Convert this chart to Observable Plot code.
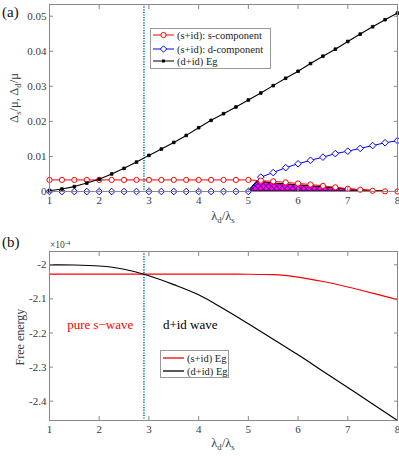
<!DOCTYPE html>
<html><head><meta charset="utf-8">
<script src="https://cdn.jsdelivr.net/npm/d3@7"></script>
<script src="https://cdn.jsdelivr.net/npm/@observablehq/plot@0.6"></script>
<style>
body{margin:0;background:#fff;font-family:'Liberation Serif','DejaVu Serif','Times New Roman',serif;color:#333}
#wrap{position:relative;width:399px;height:456px;overflow:hidden}
#wrap svg text{font-family:'Liberation Serif','DejaVu Serif','Times New Roman',serif}
.ov{position:absolute;white-space:nowrap;line-height:1}
.leg{position:absolute;background:#fff;border:1px solid #999;box-sizing:border-box;font-size:10.5px;color:#222}
.row{position:absolute;left:2px;display:flex;align-items:center;height:12px}
.row svg{margin-right:3px}
sub{font-size:70%;vertical-align:-0.35em}
sup{font-size:70%;vertical-align:0.45em}
</style></head><body>
<div id="wrap"></div>
<script>
// ---------- data ----------
const lambdaA = [1,1.25,1.5,1.75,2,2.25,2.5,2.75,3,3.25,3.5,3.75,4,4.25,4.5,4.75,5,5.25,5.5,5.75,6,6.25,6.5,6.75,7,7.25,7.5,7.75,8];
const sComp = [0.0033,0.0033,0.0033,0.0033,0.0033,0.0033,0.0033,0.0033,0.0033,0.0033,0.0033,0.0033,0.0033,0.0033,0.0033,0.0033,0.0033,0.0031,0.0029,0.0026,0.0023,0.0020,0.0016,0.0012,0.0008,0.0005,0.0002,0.00005,0];
const dComp = [0,0,0,0,0,0,0,0,0,0,0,0,0,0,0,0,0,0.0041,0.0054,0.0068,0.0079,0.0089,0.0098,0.0108,0.0115,0.0123,0.0131,0.0139,0.0145];
const dEg = [0.0002,0.0007,0.0014,0.0024,0.0035,0.0050,0.0066,0.0084,0.0103,0.0121,0.0140,0.0160,0.0182,0.0203,0.0222,0.0241,0.0261,0.0281,0.0302,0.0323,0.0343,0.0365,0.0386,0.0406,0.0428,0.0449,0.0470,0.0490,0.0509];
const hatchX = [5,5.18,5.5,6,6.5,7,7.5,7.75];
const hatchY = [0,0.0029,0.0023,0.0018,0.0012,0.0006,0.0002,0];
const lambdaB = [1,1.5,2,2.5,2.9,3,3.5,4,4.5,5,5.5,6,6.5,7,7.5,8];
const sEgB = [-2.0276,-2.0276,-2.0276,-2.0276,-2.0276,-2.0276,-2.0276,-2.0276,-2.0276,-2.0277,-2.029,-2.036,-2.049,-2.065,-2.083,-2.102];
const dEgB = [-2.0000,-2.0006,-2.0035,-2.013,-2.0276,-2.032,-2.058,-2.088,-2.129,-2.173,-2.218,-2.264,-2.312,-2.360,-2.408,-2.4566];
const crossover = [2.9];
const xTicks = [1,2,3,4,5,6,7,8];
const yTicksA = [0,0.01,0.02,0.03,0.04,0.05];
const yTicksB = [-2.4,-2.3,-2.2,-2.1,-2];
const regionLabels = [{x:2.02,y:-2.175,text:"pure s\u2212wave",c:"red"},{x:3.83,y:-2.175,text:"d+id wave",c:"black"}];

const A = lambdaA.map((x,i)=>({x,s:sComp[i],d:dComp[i],e:dEg[i]}));
const H = hatchX.map((x,i)=>({x,y:hatchY[i]}));
const B = lambdaB.map((x,i)=>({x,s:sEgB[i],d:dEgB[i]}));

const FONT = "'Liberation Serif','DejaVu Serif','Times New Roman',serif";
const axisCol = "#888";
const txtCol = "#3a3a3a";

function axes(yTicks, fmt){
  return [
    Plot.frame({stroke:axisCol, strokeWidth:1}),
    Plot.axisX(xTicks,{anchor:"bottom", tickSize:-4, tickPadding:9, stroke:axisCol, fill:txtCol, label:null, fontSize:11}),
    Plot.axisX(xTicks,{anchor:"top", tickSize:-4, tickFormat:()=>"", stroke:axisCol, label:null}),
    Plot.axisY(yTicks,{anchor:"left", tickSize:-4, tickPadding:7, stroke:axisCol, fill:txtCol, label:null, tickFormat:fmt, fontSize:11}),
    Plot.axisY(yTicks,{anchor:"right", tickSize:-4, tickFormat:()=>"", stroke:axisCol, label:null})
  ];
}

const plotA = Plot.plot({
  width:399, height:225, marginLeft:49, marginRight:2, marginTop:4, marginBottom:34,
  style:{fontFamily:FONT, fontSize:"11px", background:"transparent", overflow:"visible"},
  x:{domain:[1,8]},
  y:{domain:[0,0.05334]},
  marks:[
    Plot.areaY(H,{x:"x", y:"y", fill:"url(#xhatch)", stroke:"black", strokeWidth:1}),
    Plot.ruleX(crossover,{stroke:"#0072BD", strokeWidth:1.6, strokeDasharray:"1.2,1.4"}),
    Plot.line(A,{x:"x", y:"d", stroke:"blue", strokeWidth:1}),
    Plot.dot(A,{x:"x", y:"d", symbol:"diamond2", r:3, stroke:"blue", fill:"white", strokeWidth:1}),
    Plot.line(A,{x:"x", y:"s", stroke:"red", strokeWidth:1}),
    Plot.dot(A,{x:"x", y:"s", symbol:"circle", r:2.6, stroke:"red", fill:"white", strokeWidth:1}),
    Plot.line(A,{x:"x", y:"e", stroke:"black", strokeWidth:1.1}),
    Plot.dot(A,{x:"x", y:"e", symbol:"square", r:1.5, fill:"black", stroke:"black", strokeWidth:0.8}),
    ...axes(yTicksA, d => d===0 ? "0" : d.toFixed(2))
  ]
});

const plotB = Plot.plot({
  width:399, height:231, marginLeft:49, marginRight:2, marginTop:26, marginBottom:36,
  style:{fontFamily:FONT, fontSize:"11px", background:"transparent", overflow:"visible"},
  x:{domain:[1,8]},
  y:{domain:[-2.4566,-1.961]},
  marks:[
    Plot.ruleX(crossover,{stroke:"#0072BD", strokeWidth:1.6, strokeDasharray:"1.2,1.4"}),
    Plot.line(B,{x:"x", y:"s", stroke:"red", strokeWidth:1.2, curve:"monotone-x"}),
    Plot.line(B,{x:"x", y:"d", stroke:"black", strokeWidth:1.2, curve:"monotone-x"}),
    Plot.text(regionLabels,{x:"x", y:"y", text:"text", fill:"c", fontSize:13, fontFamily:FONT}),
    ...axes(yTicksB, d => String(+d.toFixed(1)))
  ]
});

// pattern defs
const ns = "http://www.w3.org/2000/svg";
const defs = document.createElementNS(ns,"defs");
defs.innerHTML = `<pattern id="xhatch" width="3.8" height="3.8" patternUnits="userSpaceOnUse" patternTransform="rotate(45)">
<rect width="3.8" height="3.8" fill="#ff00ff"/>
<line x1="0" y1="0" x2="0" y2="3.8" stroke="black" stroke-width="1"/>
<line x1="0" y1="0" x2="3.8" y2="0" stroke="black" stroke-width="1"/></pattern>`;
plotA.insertBefore(defs, plotA.firstChild);

const wrap = document.getElementById("wrap");
plotA.style.position="absolute"; plotA.style.left="0"; plotA.style.top="0";
plotB.style.position="absolute"; plotB.style.left="0"; plotB.style.top="225px";
wrap.appendChild(plotA); wrap.appendChild(plotB);

function ov(html, css){const d=document.createElement("div");d.className="ov";d.innerHTML=html;Object.assign(d.style,css);wrap.appendChild(d);return d;}
ov("(a)",{left:"2px",top:"5px",fontSize:"15px",color:"#111"});
ov("(b)",{left:"2px",top:"235px",fontSize:"15px",color:"#111"});
ov("\u00d710<sup>-4</sup>",{left:"50px",top:"240px",fontSize:"9.5px",color:txtCol});
ov("\u03bb<sub>d</sub>/\u03bb<sub>s</sub>",{left:"223px",top:"217px",fontSize:"12.5px",color:txtCol,transform:"translate(-50%,-50%)"});
ov("\u03bb<sub>d</sub>/\u03bb<sub>s</sub>",{left:"223px",top:"444px",fontSize:"12.5px",color:txtCol,transform:"translate(-50%,-50%)"});
ov("\u0394<sub>s</sub>/\u03bc, \u0394<sub>d</sub>/\u03bc",{left:"15px",top:"98px",fontSize:"12.5px",color:txtCol,transform:"translate(-50%,-50%) rotate(-90deg)"});
ov("Free energy",{left:"20px",top:"337px",fontSize:"12px",color:txtCol,transform:"translate(-50%,-50%) rotate(-90deg)"});

// legends
function legend(box, rows){
  const L=document.createElement("div");L.className="leg";Object.assign(L.style,box);
  rows.forEach((r,i)=>{
    const row=document.createElement("div");row.className="row";row.style.top=r.top;
    row.innerHTML=`<svg width="21" height="10">${r.icon}</svg><span>${r.label}</span>`;
    L.appendChild(row);
  });
  wrap.appendChild(L);
}
legend({left:"150px",top:"28px",width:"121px",height:"41px"},[
  {top:"0px",label:"(s+id): s-component",icon:`<line x1="0" y1="5" x2="21" y2="5" stroke="red"/><circle cx="10.5" cy="5" r="2.6" fill="white" stroke="red"/>`},
  {top:"14px",label:"(s+id): d-component",icon:`<line x1="0" y1="5" x2="21" y2="5" stroke="blue"/><path d="M10.5,1.8L13.7,5L10.5,8.2L7.3,5Z" fill="white" stroke="blue"/>`},
  {top:"26px",label:"(d+id) Eg",icon:`<line x1="0" y1="5" x2="21" y2="5" stroke="black"/><rect x="9" y="3.5" width="3" height="3" fill="black"/>`}
]);
legend({left:"160px",top:"350px",width:"69px",height:"28px"},[
  {top:"1px",label:"(s+id) Eg",icon:`<line x1="0" y1="5" x2="21" y2="5" stroke="red" stroke-width="1.3"/>`},
  {top:"14px",label:"(d+id) Eg",icon:`<line x1="0" y1="5" x2="21" y2="5" stroke="black" stroke-width="1.3"/>`}
]);
</script>
</body></html>
